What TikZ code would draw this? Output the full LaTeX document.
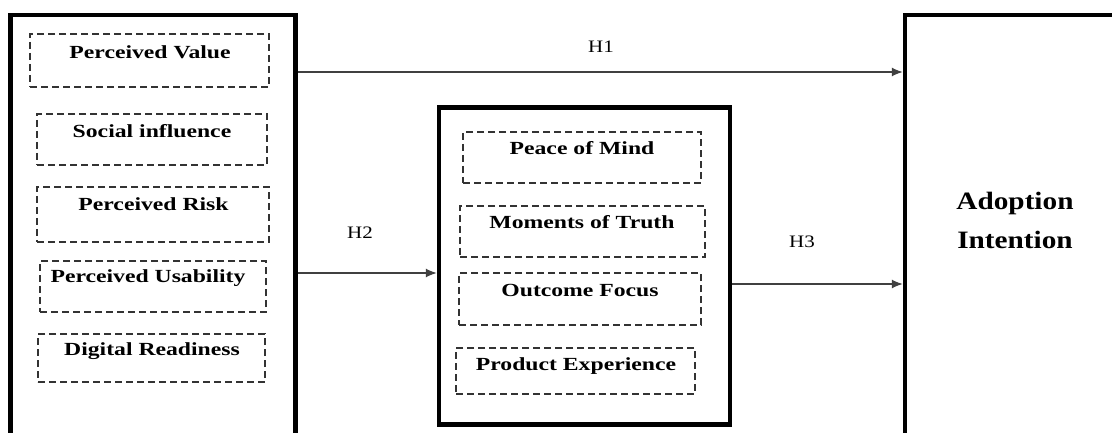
\documentclass[tikz,border=0pt]{standalone}
\usepackage{fontspec}
\setmainfont{Liberation Serif}
\newfontfamily\lblfont{Liberation Serif}[FakeStretch=1.28]
\newfontfamily\hfont{Liberation Serif}[FakeStretch=1.2]
\newfontfamily\bigfont{Liberation Serif}[FakeStretch=1.17]
\usetikzlibrary{arrows.meta}
\begin{document}
\begin{tikzpicture}[x=1pt,y=-1pt,
  outerbox/.style={draw=black, line width=4.5pt, rectangle, inner sep=0pt},
  dbox/.style={draw=black!80, dash pattern=on 7pt off 4pt, line width=1.3pt, rectangle, inner sep=0pt},
  lbl/.style={font=\lblfont\bfseries\fontsize{18.5}{21}\selectfont, inner sep=0pt},
  hyp/.style={font=\hfont\fontsize{17.5}{20}\selectfont, inner sep=0pt},
  big/.style={font=\bigfont\bfseries\fontsize{25}{39}\selectfont, inner sep=0pt, align=center},
  conn/.style={draw=black!75, line width=1.2pt, -{Latex[length=11pt,width=9pt]}}
]
\useasboundingbox (0,0) rectangle (1112,433);
\clip (0,0) rectangle (1112,433);
\fill[white] (0,0) rectangle (1112,433);

% outer boxes
\node[outerbox, minimum width=285pt, minimum height=445pt] (lb) at (153,237.5) {};
\node[outerbox, minimum width=291pt, minimum height=317pt] (mb) at (584.5,266) {};
\node[outerbox, minimum width=240pt, minimum height=445pt] (rb) at (1025,237.5) {};

% left dashed boxes
\node[dbox, minimum width=239pt, minimum height=53pt] (pv) at (149.5,60.5) {};
\node[lbl] (pvt) at (150,52) {Perceived Value};
\node[dbox, minimum width=230pt, minimum height=51pt] (si) at (152,139.5) {};
\node[lbl] (sit) at (152,131) {Social influence};
\node[dbox, minimum width=232pt, minimum height=55pt] (pr) at (153,214.5) {};
\node[lbl] (prt) at (153.5,204) {Perceived Risk};
\node[dbox, minimum width=226pt, minimum height=51pt] (pu) at (153,286.5) {};
\node[lbl] (put) at (148,278) {Perceived Usability};
\node[dbox, minimum width=227pt, minimum height=48pt] (dr) at (151.5,358) {};
\node[lbl] (drt) at (152,351) {Digital Readiness};

% middle dashed boxes
\node[dbox, minimum width=238pt, minimum height=51pt] (pm) at (582,157.5) {};
\node[lbl] (pmt) at (582,148) {Peace of Mind};
\node[dbox, minimum width=245pt, minimum height=51pt] (mt) at (582.5,231.5) {};
\node[lbl] (mtt) at (582,222) {Moments of Truth};
\node[dbox, minimum width=242pt, minimum height=52pt] (of) at (580,299) {};
\node[lbl] (oft) at (580,290) {Outcome Focus};
\node[dbox, minimum width=239pt, minimum height=46pt] (pe) at (575.5,371) {};
\node[lbl] (pet) at (576,366) {Product Experience};

% right text
\node[big] (ai) at (1015,220) {Adoption\\Intention};

% connectors
\coordinate (h1s) at (lb.east |- 0,72);
\coordinate (h2s) at (lb.east |- 0,273);
\coordinate (h3s) at (mb.east |- 0,284);
\draw[conn] (h1s) -- (h1s -| rb.west);
\draw[conn] (h2s) -- (h2s -| mb.west);
\draw[conn] (h3s) -- (h3s -| rb.west);

\node[hyp] (h1) at (601,47) {H1};
\node[hyp] (h2) at (360,233) {H2};
\node[hyp] (h3) at (802,242) {H3};
\end{tikzpicture}
\end{document}
